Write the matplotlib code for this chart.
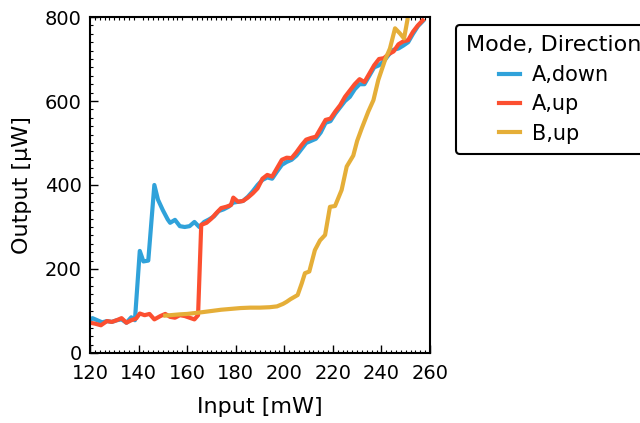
import matplotlib
matplotlib.use("Agg")
import matplotlib.pyplot as plt
from matplotlib.ticker import MultipleLocator

# ---- data ----
a_down_x = [120, 121, 123, 125, 127, 129, 131, 133, 135, 137, 138.5, 140.5, 142, 144,
            146.5, 148, 150, 152, 153, 155, 157, 159, 161, 163, 165, 167, 169, 171, 173,
            175, 177, 179, 181, 183, 185, 187, 189, 191, 193, 195, 197, 199, 201, 203,
            205, 207, 209, 211, 213, 215, 217, 219, 221, 223, 225, 227, 229, 231, 233,
            235, 237, 239, 241, 243, 245, 247, 249, 251, 253, 255, 257]
a_down_y = [78, 83, 78, 73, 76, 74, 78, 80, 72, 85, 78, 243, 218, 220,
            400, 365, 340, 318, 310, 317, 302, 300, 302, 312, 300, 312, 318, 325, 338,
            342, 348, 358, 360, 362, 372, 385, 400, 412, 418, 415, 432, 448, 455, 460,
            470, 485, 500, 505, 510, 525, 548, 552, 570, 585, 600, 610, 628, 640, 640,
            660, 680, 685, 695, 710, 722, 725, 732, 740, 760, 778, 790]

a_up_x = [120, 122, 124.5, 127, 129, 131, 133, 135, 137, 139, 140.5, 142.5, 144.5, 146.5,
          149, 151, 153, 155, 157, 159, 161, 163, 164.5, 165.8, 168, 170, 172, 174, 176,
          178, 179, 181, 183, 185, 187, 189, 191, 193, 195, 197, 199, 201, 203, 205,
          207, 209, 211, 213, 215, 217, 219, 221, 223, 225, 227, 229, 231, 233, 235,
          237, 239, 241, 243, 245, 247, 249, 251, 253, 255, 257]
a_up_y = [72, 70, 66, 76, 74, 78, 83, 72, 78, 82, 94, 90, 93, 80,
          88, 93, 86, 84, 90, 88, 84, 80, 90, 305, 310, 320, 333, 345, 348,
          352, 370, 360, 362, 370, 380, 392, 415, 424, 420, 440, 460, 465, 464, 478,
          494, 508, 512, 515, 535, 555, 558, 575, 590, 610, 625, 640, 652, 645, 665,
          685, 700, 702, 712, 718, 735, 742, 745, 765, 780, 792]

b_up_x = [151, 153, 155, 157, 160, 163, 166, 170, 174, 178, 182, 186, 190, 194, 197,
          199.5, 201, 202.5, 204, 205.5, 207.2, 208.5, 210.3, 212.6, 214.7, 216.8,
          218.8, 220.9, 223.6, 225.7, 228.4, 230, 231.9, 234.6, 236.7, 238.7, 241.5,
          243.5, 245.6, 247.6, 249.3, 250.7]
b_up_y = [89, 90, 91, 92, 93, 95, 97, 100, 103, 105, 107, 108, 108, 109, 111,
          117, 122, 128, 133, 138, 166, 190, 194, 245, 268, 281,
          348, 350, 388, 444, 470, 505, 535, 575, 602, 650, 698,
          725, 773, 761, 749, 793]

series = [("A,down", a_down_x, a_down_y, "#30a2da"),
          ("A,up", a_up_x, a_up_y, "#fc4f30"),
          ("B,up", b_up_x, b_up_y, "#e5ae38")]

fig = plt.figure(figsize=(6.4, 4.23), dpi=100)
ax = fig.add_axes([0.1406, 0.1655, 0.5313, 0.7943])

for lbl, xs, ys, c in series:
    ax.plot(xs, ys, color=c, lw=3, label=lbl)

ax.set_xlim(120, 260)
ax.set_ylim(0, 800)
ax.xaxis.set_major_locator(MultipleLocator(20))
ax.yaxis.set_major_locator(MultipleLocator(200))
ax.xaxis.set_minor_locator(MultipleLocator(2))
ax.yaxis.set_minor_locator(MultipleLocator(20))
ax.tick_params(which="major", direction="in", length=6, width=1, labelsize=14,
               top=False, right=False)
ax.tick_params(axis="x", which="major", pad=8)
ax.tick_params(axis="y", which="major", pad=6)
ax.tick_params(which="minor", direction="in", length=2, width=0.8, top=True, right=False)
for sp in ax.spines.values():
    sp.set_linewidth(1.5)

ax.set_xlabel("Input [mW]", fontsize=16, labelpad=10)
ax.set_ylabel("Output [µW]", fontsize=16, labelpad=9)

leg = ax.legend(title="Mode, Direction", loc="upper left", bbox_to_anchor=(1.076, 0.976),
                borderaxespad=0, fontsize=15, title_fontsize=16, handlelength=1.0,
                handletextpad=0.55, frameon=True, borderpad=0.5, labelspacing=0.45)
leg.get_frame().set_edgecolor("black")
leg.get_frame().set_linewidth(1.5)
leg.get_frame().set_alpha(1)

fig.savefig("out.png", dpi=100)
